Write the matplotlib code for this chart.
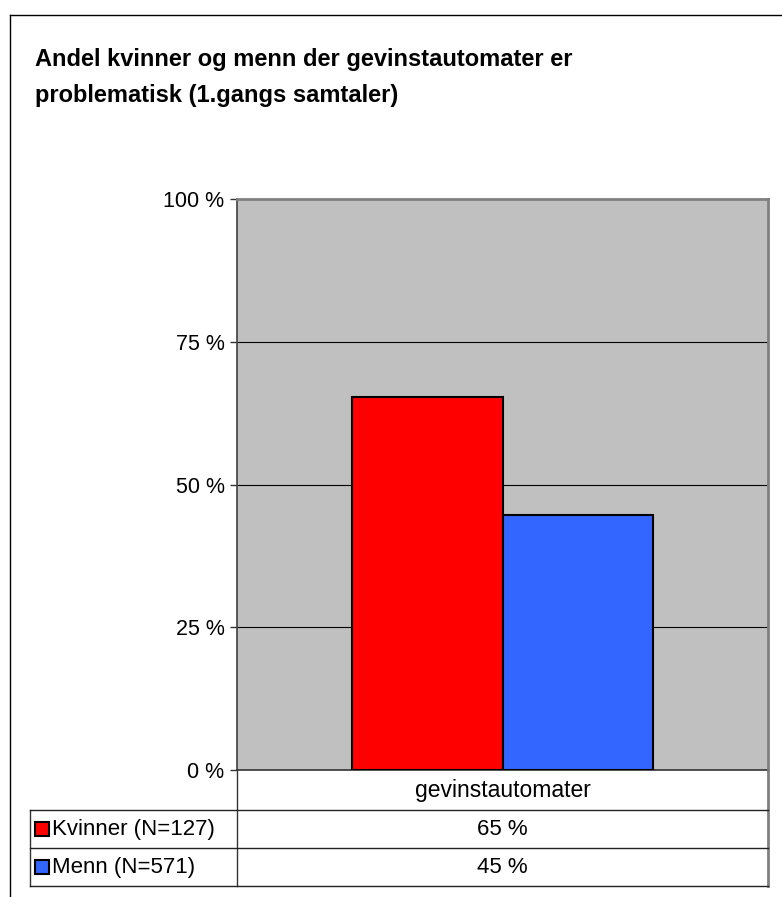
import matplotlib.pyplot as plt
from matplotlib.patches import Rectangle
from matplotlib.lines import Line2D

plt.rcParams['font.family'] = ['Liberation Sans', 'DejaVu Sans']

# Data
category = "gevinstautomater"
series = ["Kvinner (N=127)", "Menn (N=571)"]
values = [65.3, 44.6]
colors = ["#FF0000", "#3366FF"]
yticks = [0, 25, 50, 75, 100]
ytick_labels = ["0 %", "25 %", "50 %", "75 %", "100 %"]
title = "Andel kvinner og menn der gevinstautomater er\nproblematisk (1.gangs samtaler)"

W, H = 782, 897
fig = plt.figure(figsize=(W / 100, H / 100), dpi=100)

def fx(px):
    return px / W

def fy(py):
    return 1 - py / H

# Outer frame (left and top)
fig.add_artist(Line2D([fx(10), fx(10)], [fy(15), 0], color="black", lw=1))
fig.add_artist(Line2D([fx(10), 1], [fy(15), fy(15)], color="black", lw=1))

fig.text(fx(35), fy(48), title, fontsize=17, fontweight="bold", va="top", ha="left",
         linespacing=1.7)

# Plot area
L, R, T, B = 237, 768, 199, 770
ax = fig.add_axes([fx(L), fy(B), fx(R) - fx(L), fy(T) - fy(B)])
ax.set_facecolor("#C0C0C0")
ax.set_xlim(-0.5, 0.5)
ax.set_ylim(0, 100)

width = 0.284
offsets = [-width / 2, width / 2]
for off, v, c in zip(offsets, values, colors):
    ax.bar(off, v, width=width, color=c, edgecolor="black", linewidth=1.5, zorder=3)

for t in yticks[1:-1]:
    ax.axhline(t, color="black", lw=0.8, zorder=1)

ax.set_yticks(yticks)
ax.set_yticklabels(ytick_labels, fontsize=15.5)
ax.tick_params(axis="y", length=5, width=1, color="#333333", pad=4)
ax.set_xticks([])
for s in ["top", "right"]:
    ax.spines[s].set_color("#808080")
    ax.spines[s].set_linewidth(2)
ax.spines["left"].set_color("#404040")
ax.spines["left"].set_linewidth(1.2)
ax.spines["bottom"].set_color("#333333")
ax.spines["bottom"].set_linewidth(1.2)

# Data table below the plot
def hline(x0, x1, y, c="black", lw=1):
    fig.add_artist(Line2D([fx(x0), fx(x1)], [fy(y), fy(y)], color=c, lw=lw))

def vline(x, y0, y1, c="black", lw=1):
    fig.add_artist(Line2D([fx(x), fx(x)], [fy(y0), fy(y1)], color=c, lw=lw))

TL = 30
rows = [770, 810, 848, 886]
vline(L, rows[0], rows[-1], c="#333333")
vline(R, rows[0], rows[-1], c="#808080", lw=2)
vline(TL, rows[1], rows[-1], c="#333333")
for y in rows[1:]:
    hline(TL, R, y, c="#222222")

fig.text(fx((L + R) / 2), fy((rows[0] + rows[1]) / 2), category, fontsize=16.5,
         ha="center", va="center")
for i, (name, v, c) in enumerate(zip(series, values, colors)):
    yc = (rows[i + 1] + rows[i + 2]) / 2
    fig.add_artist(Rectangle((fx(35), fy(yc + 7)), fx(14), 14 / H, facecolor=c,
                             edgecolor="black", lw=1.5))
    fig.text(fx(52), fy(yc), name, fontsize=16, ha="left", va="center")
    fig.text(fx((L + R) / 2), fy(yc), f"{round(v)} %", fontsize=16,
             ha="center", va="center")

fig.savefig("out.png", dpi=100)
